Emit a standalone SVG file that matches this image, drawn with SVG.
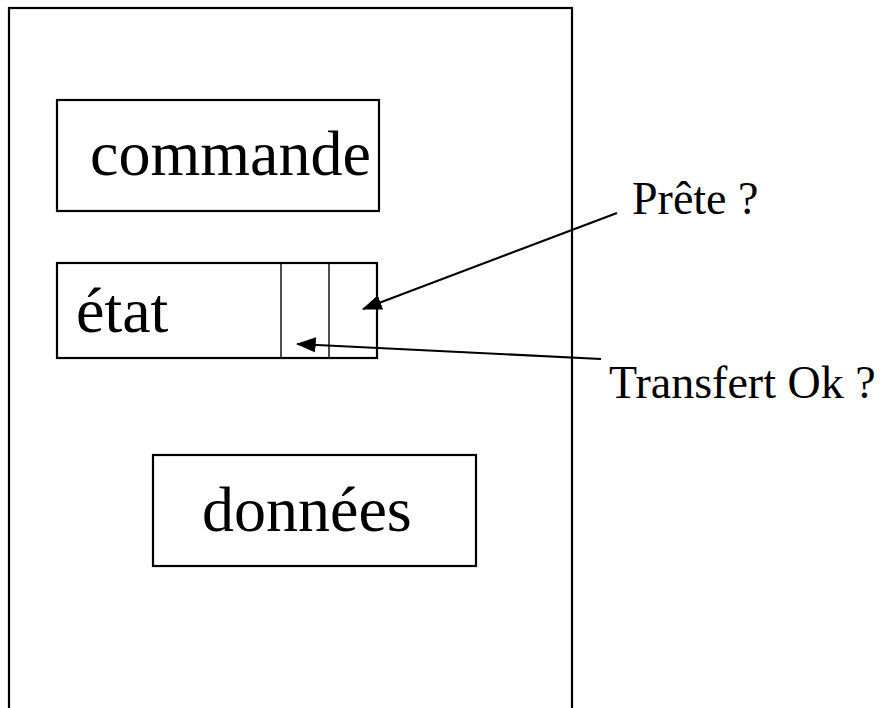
<svg xmlns="http://www.w3.org/2000/svg" width="884" height="708" viewBox="0 0 884 708">
<style>
.box{fill:none;stroke:#000;stroke-width:2.2}
.div{stroke:#000;stroke-width:1.4}
.big{font-family:"Liberation Serif",serif;font-size:64px;fill:#000}
.lbl{font-family:"Liberation Serif",serif;font-size:46px;fill:#000}
.con{stroke:#000;stroke-width:2.2;fill:none;marker-end:url(#ah)}
</style>
<defs>
<marker id="ah" markerWidth="9" markerHeight="7" refX="8.5" refY="3.5" orient="auto" markerUnits="strokeWidth">
<path d="M0,0 L9,3.5 L0,7 z" fill="#000"/>
</marker>
</defs>
<rect width="884" height="708" fill="#fff"/>
<g id="outer"><rect class="box" x="9" y="8" width="563" height="720"/></g>
<g id="commande"><rect class="box" x="57" y="100" width="322" height="111"/><text class="big" x="90" y="175">commande</text></g>
<g id="etat"><rect class="box" x="57" y="263" width="320" height="95"/><line class="div" x1="281" y1="263" x2="281" y2="358"/><line class="div" x1="329" y1="263" x2="329" y2="358"/><text class="big" x="76" y="332">état</text></g>
<g id="donnees"><rect class="box" x="153" y="455" width="323" height="111"/><text class="big" x="202" y="531">données</text></g>
<g id="prete"><text class="lbl" x="632" y="214">Prête ?</text></g>
<g id="transfert"><text class="lbl" x="609" y="398">Transfert Ok ?</text></g>
<g id="connectors">
<line class="con" x1="617" y1="213" x2="363" y2="309"/>
<line class="con" x1="601" y1="359" x2="297" y2="344"/>
</g>
</svg>
